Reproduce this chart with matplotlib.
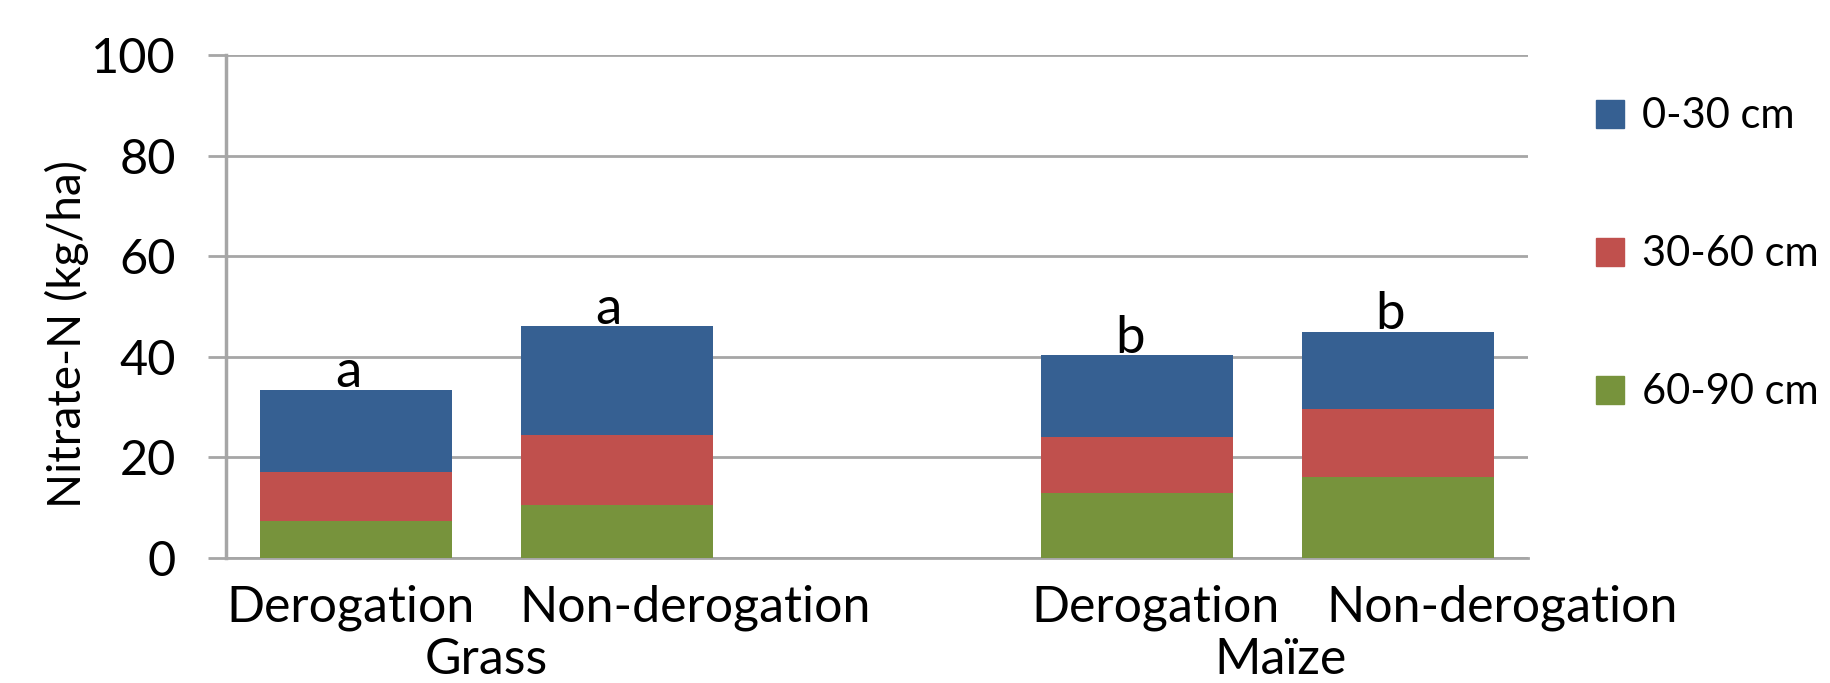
import numpy as np
import matplotlib
matplotlib.use("Agg")
from matplotlib import pyplot as plt
from matplotlib.patches import Patch

plt.rcParams['font.family'] = ['Lato', 'DejaVu Sans']

# data (kg/ha)
treatments = ['Derogation', 'Non-derogation', '', 'Derogation', 'Non-derogation']
crops = ['Grass', 'Maïze']
layers = ['0-30 cm', '30-60 cm', '60-90 cm']
top = [16.4, 21.6, 0, 16.3, 15.4]      # 0-30 cm
mid = [9.7, 13.9, 0, 11.1, 13.5]       # 30-60 cm
low = [7.3, 10.5, 0, 12.9, 16.0]       # 60-90 cm
letters = ['a', 'a', '', 'b', 'b']

colors = ['#366092', '#C0504D', '#77933C']
grid_c = '#a6a6a6'

fig = plt.figure(figsize=(18.31, 6.83), dpi=100)
ax = fig.add_axes([226/1831, 1-557.7/683, (1528-226)/1831, (557.7-55)/683])

x = np.arange(len(treatments))
w = 0.737
low = np.array(low); mid = np.array(mid); top = np.array(top)
ax.bar(x, low, w, color=colors[2], zorder=3)
ax.bar(x, mid, w, bottom=low, color=colors[1], zorder=3)
ax.bar(x, top, w, bottom=low+mid, color=colors[0], zorder=3)

tot = low + mid + top
for xi, t, l in zip(x, tot, letters):
    if l:
        ax.text(xi - 0.03, t + 0.5, l, ha='center', va='baseline', fontsize=38, zorder=4)

ax.set_xlim(-0.5, 4.5)
ax.set_ylim(0, 100)
ax.set_yticks(np.arange(0, 101, 20))
ax.tick_params(axis='y', length=13, width=2, color=grid_c, labelsize=35, pad=23)
ax.set_xticks([])
ax.yaxis.grid(True, color=grid_c, linewidth=2, zorder=0)
for s in ['top', 'right']:
    ax.spines[s].set_visible(False)
ax.spines['left'].set_color(grid_c)
ax.spines['left'].set_linewidth(2.5)
ax.spines['bottom'].set_color(grid_c)
ax.spines['bottom'].set_linewidth(2)

# category labels
lab_x = [-0.02, 1.3, 3.07, 4.4]
for lx, t in zip(lab_x, [s for s in treatments if s]):
    ax.text(lx, -10, t, ha='center', va='center', fontsize=36, clip_on=False)
for cx, c in zip([0.5, 3.55], crops):
    ax.text(cx, -20.3, c, ha='center', va='center', fontsize=36, clip_on=False)

fig.text(67/1831, 1-334/683, 'Nitrate-N (kg/ha)', rotation=90, ha='center', va='center', fontsize=33)

handles = [Patch(color=c) for c in colors]
fig.legend(handles, layers, loc='upper left', bbox_to_anchor=(1559/1831, 1-60/683),
           frameon=False, fontsize=30, handlelength=0.65, handleheight=0.65,
           handletextpad=0.45, labelspacing=2.4)

fig.savefig('out.png', dpi=100)
